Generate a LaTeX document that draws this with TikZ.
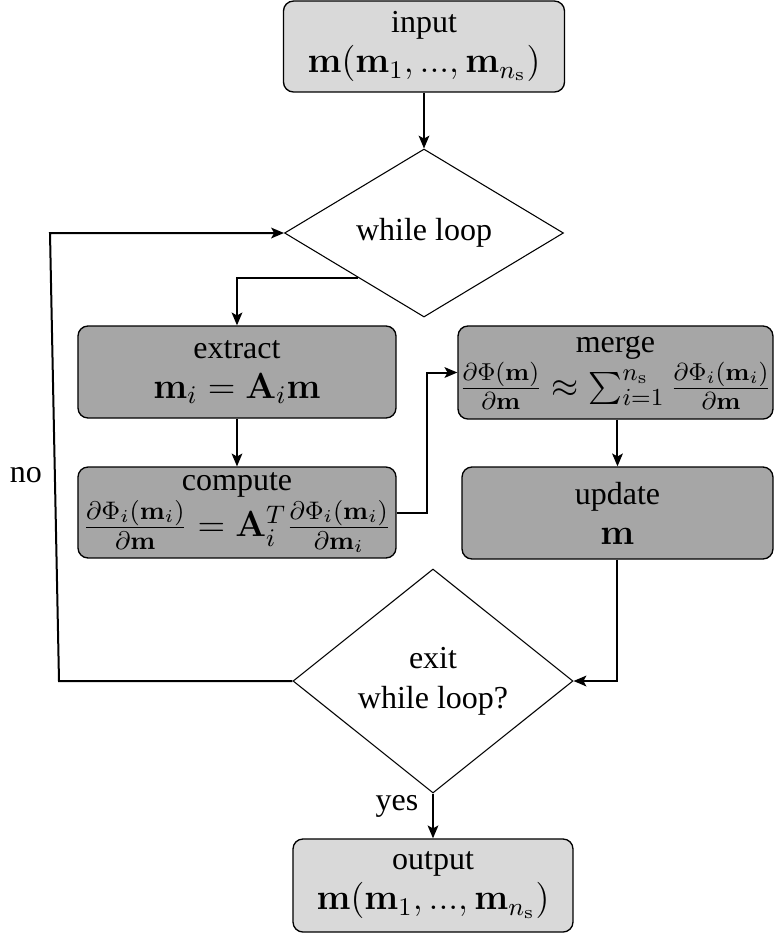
\RequirePackage{fix-cm}
\documentclass[tikz,border=0pt]{standalone}
\usepackage{exscale}
\usepackage[no-math]{fontspec}
\setmainfont{Liberation Serif}
\newfontfamily\labelfont{Liberation Serif}
\usetikzlibrary{shapes.geometric,arrows.meta,calc}

\definecolor{iofill}{HTML}{D9D9D9}
\definecolor{procfill}{HTML}{A6A6A6}

% formulas are set a little larger than the labels
\newcommand{\fml}[2][13.6]{{\fontsize{#1}{16}\selectfont$#2$}}

\begin{document}
\begin{tikzpicture}[x=0.375pt,y=-0.375pt,
  font=\labelfont\fontsize{12}{15}\selectfont,
  iobox/.style={draw, line width=0.5pt, rounded corners=3.75pt, fill=iofill,
    align=center, inner sep=0pt},
  procbox/.style={draw, line width=0.5pt, rounded corners=3.75pt, fill=procfill,
    align=center, inner sep=0pt},
  decision/.style={diamond, draw, line width=0.4pt, align=center, inner sep=0pt},
  conn/.style={line width=0.75pt, -{Stealth[length=4.8pt,width=4pt,inset=1.1pt]}},
  lbl/.style={inner sep=0pt}]

\useasboundingbox (0,0) rectangle (774,935);

% input / output terminals
\node[iobox, minimum width=105.4pt, minimum height=34.1pt] (inp) at (424,46.5)
  {input\\[0pt]\fml{\mathbf{m}(\mathbf{m}_1,...,\mathbf{m}_{n_\mathrm{s}})}};
\node[iobox, minimum width=105pt, minimum height=34.9pt] (out) at (433,885.5)
  {output\\[0pt]\fml{\mathbf{m}(\mathbf{m}_1,...,\mathbf{m}_{n_\mathrm{s}})}};

% decisions
\node[decision, aspect=1.66, minimum width=104.6pt, minimum height=63pt] (d1) at (424,233)
  {while loop};
\node[decision, aspect=1.25, minimum width=105pt, minimum height=84pt] (d2) at (433,681)
  {exit\\while loop?};

% processing steps
\node[procbox, minimum width=119.25pt, minimum height=34.5pt] (ext) at (237,372)
  {extract\\\fml{\mathbf{m}_i=\mathbf{A}_i\mathbf{m}}};
\node[procbox, minimum width=119.25pt, minimum height=34.1pt] (cmp) at (237,512.5)
  {compute\\[0pt]\fml{\frac{\partial\Phi_i(\mathbf{m}_i)}{\partial\mathbf{m}}=\mathbf{A}_i^T\frac{\partial\Phi_i(\mathbf{m}_i)}{\partial\mathbf{m}_i}}};
\node[procbox, minimum width=118.1pt, minimum height=34.9pt] (mrg) at (615.5,372.5)
  {merge\\[0pt]\fml[13.1]{\frac{\partial\Phi(\mathbf{m})}{\partial\mathbf{m}}\approx\sum_{i=1}^{n_\mathrm{s}}\frac{\partial\Phi_i(\mathbf{m}_i)}{\partial\mathbf{m}}}};
\node[procbox, minimum width=116.6pt, minimum height=34.5pt] (upd) at (617.5,513)
  {update\\\fml{\mathbf{m}}};

% branch labels
\node[lbl] (no) at (26,475) {no};
\node[lbl] (yes) at (397,806) {yes};

% loop-back corners
\coordinate (nb) at (59,681);
\coordinate (nt) at (50,233);
\coordinate (split) at ($(d1.west)!0.53!(d1.south)$);

% connectors
\draw[conn] (inp.south) -- (d1.north);
\draw[conn] (split) -| (ext.north);
\draw[conn] (ext.south) -- (cmp.north);
\draw[conn] (cmp.east) -- ++(30,0) |- (mrg.west);
\draw[conn] (mrg.south -| upd.north) -- (upd.north);
\draw[conn] (upd.south) |- (d2.east);
\draw[conn] (d2.south) -- (out.north);
\draw[conn] (d2.west) -- (nb) -- (nt) -- (d1.west);
\end{tikzpicture}
\end{document}
